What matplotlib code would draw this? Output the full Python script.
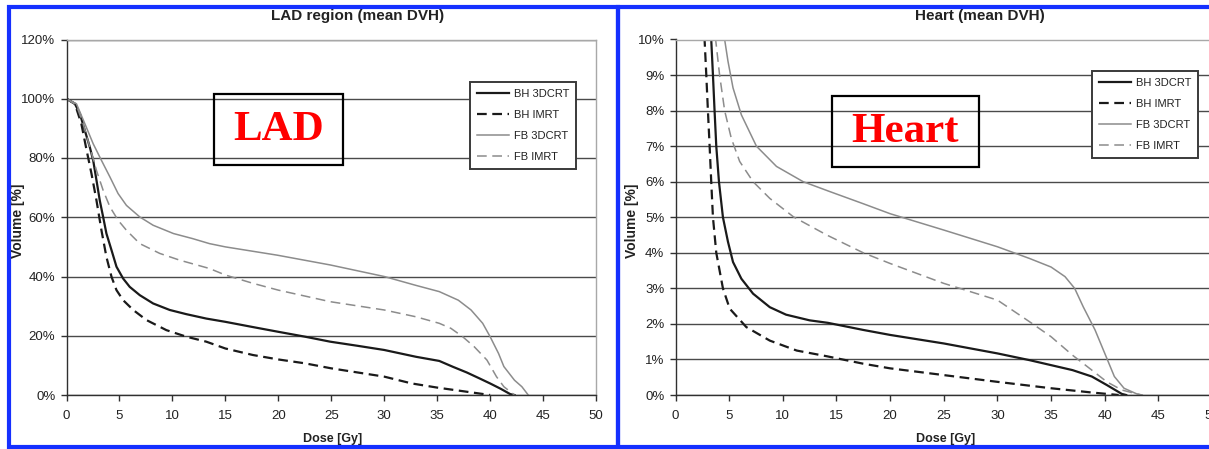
import matplotlib
matplotlib.use("Agg")
import matplotlib.pyplot as plt
from matplotlib.patches import Rectangle
from matplotlib.ticker import FuncFormatter, MultipleLocator

# ---- data (dose in Gy, volume in %) ----
series_names = ["BH 3DCRT", "BH IMRT", "FB 3DCRT", "FB IMRT"]

lad_bh3d_x = [0, 0.79, 1.26, 1.73, 2.2, 2.52, 2.83, 3.14, 3.46, 3.77, 4.25, 4.72, 5.35, 5.97, 6.92, 8.18, 9.75, 11.3, 13.2,
              15, 17.5, 19.9, 22.5, 24.9, 27.5, 30, 33, 35.2, 36.5, 37.8, 39, 40, 41, 41.9, 42.3]
lad_bh3d_y = [100, 98.3, 95, 89.3, 83.7, 79.2, 72.5, 65.7, 60.1, 54.5, 48.9, 43.3, 39.3, 36.5, 33.7, 30.9, 28.7, 27.3, 25.8,
              24.7, 23, 21.4, 19.7, 18, 16.6, 15.2, 12.9, 11.5, 9.5, 7.6, 5.6, 3.9, 2.1, 0.3, 0]

lad_bhimrt_x = [0, 0.79, 1.4, 1.9, 2.36, 2.83, 3.3, 3.77, 4.25, 4.72, 5.35, 6.3, 7.55, 9.43, 11.3, 13.2,
                15, 17.6, 20, 22.5, 25, 27.5, 30, 32.6, 35, 37.4, 40]
lad_bhimrt_y = [100, 98.3, 91.6, 82.6, 74.7, 65.7, 55.6, 46.6, 39.9, 35.4, 32, 28.7, 25.3, 21.9, 19.7, 18.0,
                15.7, 13.5, 12, 10.7, 9, 7.6, 6.2, 3.9, 2.5, 1.3, 0]

lad_fb3d_x = [0, 0.94, 1.73, 2.52, 3.3, 4.1, 4.87, 5.66, 6.92, 8.18, 10.1, 11.9, 13.5,
              15, 19.9, 24.9, 30, 33, 35.2, 37, 38.2, 39.3, 40, 40.8, 41.3, 42.3, 43, 43.6]
lad_fb3d_y = [100, 98.3, 91.6, 84.8, 79.2, 73.6, 68, 64, 60.1, 57.3, 54.5, 52.8, 51.1,
              50, 47.2, 43.9, 40, 37, 34.9, 32, 28.7, 24.2, 19.7, 14, 9.6, 5, 2.8, 0]

lad_fbimrt_x = [0, 0.94, 1.57, 2.2, 2.83, 3.46, 4.1, 4.87, 5.66, 6.92, 8.8, 10.7, 13.5,
                15, 17.6, 20, 24.9, 30, 33, 35.2, 36.3, 37.4, 38.5, 39.7, 40.6, 41.3, 42.3]
lad_fbimrt_y = [100, 97.8, 91.6, 83.7, 75.8, 69.1, 63.5, 59, 55.6, 51.1, 47.8, 45.5, 42.7,
                40.5, 37.7, 35.4, 31.5, 28.7, 26.4, 24.2, 22.5, 19.7, 16.3, 11.8, 6.2, 2.8, 0]

heart_bh3d_x = [3.3, 3.33, 3.49, 3.64, 3.8, 4.05, 4.42, 4.89, 5.36, 6.14, 7.23, 8.79, 10.3, 12.5, 14.2,
                17.5, 20, 25, 30, 33, 35, 37, 38.8, 40.2, 41.6, 42]
heart_bh3d_y = [10.5, 10, 9, 8, 7, 6, 5, 4.31, 3.74, 3.27, 2.85, 2.47, 2.26, 2.1, 2.03,
                1.83, 1.69, 1.45, 1.17, 0.98, 0.84, 0.70, 0.52, 0.28, 0.03, 0]

heart_bhimrt_x = [2.68, 2.71, 2.87, 3.02, 3.18, 3.33, 3.49, 3.8, 4.42, 5.05, 6.6, 8.79, 11.3, 14.1,
                  17.5, 20, 25, 30, 35, 38.8, 41.3]
heart_bhimrt_y = [10.5, 10, 9, 8, 7, 6, 5, 4, 3, 2.43, 1.91, 1.53, 1.25, 1.09,
                  0.88, 0.75, 0.56, 0.37, 0.19, 0.07, 0]

heart_fb3d_x = [4.5, 4.58, 4.89, 5.36, 6.14, 7.54, 9.41, 11.9, 14.4,
                17.5, 20, 25, 30, 33, 35, 36.3, 37.2, 38, 39.1, 40.2, 40.9, 41.8, 43, 43.5]
heart_fb3d_y = [10.5, 10, 9.39, 8.64, 7.88, 7.0, 6.43, 6.0, 5.72,
                5.38, 5.1, 4.64, 4.17, 3.84, 3.6, 3.33, 3.0, 2.48, 1.83, 1.03, 0.52, 0.19, 0.03, 0]

heart_fbimrt_x = [3.68, 3.74, 4.11, 4.58, 5.2, 5.98, 7.23, 8.79, 11, 14.1,
                  17.5, 20, 25, 30, 33, 35, 37, 38.8, 40.2, 41.6, 43.4]
heart_fbimrt_y = [10.5, 10, 9, 8, 7.22, 6.57, 6.0, 5.53, 5.01, 4.5,
                  4.0, 3.70, 3.14, 2.67, 2.06, 1.64, 1.12, 0.70, 0.37, 0.14, 0]

x_ticks = [0, 5, 10, 15, 20, 25, 30, 35, 40, 45, 50]

# ---- style ----
plt.rcParams["font.family"] = ["Liberation Sans Narrow", "Liberation Sans", "DejaVu Sans"]
plt.rcParams["lines.scale_dashes"] = False

W, H = 1209, 449
DARK = "#1a1a1a"
GREY = "#8c8c8c"
GRID = "#4a4a4a"
BLUE = "#1530ff"
TXT = "#222222"

styles = [
    dict(color=DARK, lw=1.6, ls="-"),
    dict(color=DARK, lw=1.6, dashes=(7, 4)),
    dict(color=GREY, lw=1.1, ls="-"),
    dict(color=GREY, lw=1.1, dashes=(7, 4)),
]


def px_box(x0, x1, y_top, y_bot):
    """pixel box -> figure fraction [left, bottom, width, height]"""
    return [x0 / W, 1 - y_bot / H, (x1 - x0) / W, (y_bot - y_top) / H]


fig = plt.figure(figsize=(W / 100, H / 100), dpi=100)


def draw_panel(rect, data, ymax, ystep, title, title_x, ylabel_x, xlabel_x,
               legend_xy, tag, tag_box):
    ax = fig.add_axes(rect)
    handles = []
    for (xs, ys), st, name in zip(data, styles, series_names):
        ln, = ax.plot(xs, ys, label=name, solid_joinstyle="round", **st)
        handles.append(ln)
    ax.set_xlim(0, 50)
    ax.set_ylim(0, ymax)
    ax.set_xticks(x_ticks)
    ax.yaxis.set_major_locator(MultipleLocator(ystep))
    ax.yaxis.set_major_formatter(FuncFormatter(lambda v, p: f"{v:.0f}%"))
    ax.yaxis.grid(True, color=GRID, lw=1.0)
    ax.set_axisbelow(True)
    for s in ["left", "bottom"]:
        ax.spines[s].set_color("#303030")
        ax.spines[s].set_linewidth(1.0)
    for s in ["top", "right"]:
        ax.spines[s].set_color("#a8a8a8")
        ax.spines[s].set_linewidth(1.0)
    ax.tick_params(axis="both", direction="out", length=4, width=1.0,
                   color="#303030", labelsize=9.5, labelcolor=TXT)
    ax.tick_params(axis="y", pad=4)
    ax.tick_params(axis="x", pad=7)

    fig.text(title_x / W, 1 - 16 / H, title, ha="center", va="center",
             fontsize=11, fontweight="bold", color=TXT)
    fig.text(ylabel_x / W, 1 - 221 / H, "Volume [%]", rotation=90,
             ha="center", va="center", fontsize=10, fontweight="bold",
             color=TXT)
    fig.text(xlabel_x / W, 1 - 439 / H, "Dose [Gy]", ha="center",
             va="center", fontsize=9, fontweight="bold", color=TXT)

    leg = fig.legend(handles=handles, loc="upper left",
                     bbox_to_anchor=(legend_xy[0] / W, 1 - legend_xy[1] / H),
                     frameon=True, fancybox=False, framealpha=1,
                     edgecolor="#3a3a3a", fontsize=8, handlelength=2.9,
                     handletextpad=0.45, labelspacing=1.0, borderpad=0.6,
                     borderaxespad=0)
    leg.get_frame().set_linewidth(1.4)
    for t in leg.get_texts():
        t.set_color(TXT)

    bx0, bx1, by0, by1 = tag_box
    fig.patches.append(Rectangle((bx0 / W, 1 - by1 / H), (bx1 - bx0) / W,
                                 (by1 - by0) / H, transform=fig.transFigure,
                                 fill=False, ec="black", lw=1.6, zorder=5))
    fig.text((bx0 + bx1) / 2 / W, 1 - (by0 + by1) / 2 / H, tag,
             ha="center", va="center", fontsize=31, fontweight="bold",
             color="red", family="Liberation Serif", zorder=6)
    return ax


lad_data = [(lad_bh3d_x, lad_bh3d_y), (lad_bhimrt_x, lad_bhimrt_y),
            (lad_fb3d_x, lad_fb3d_y), (lad_fbimrt_x, lad_fbimrt_y)]
heart_data = [(heart_bh3d_x, heart_bh3d_y), (heart_bhimrt_x, heart_bhimrt_y),
              (heart_fb3d_x, heart_fb3d_y), (heart_fbimrt_x, heart_fbimrt_y)]

draw_panel(px_box(66.5, 596, 39.5, 395), lad_data, 120, 20,
           "LAD region (mean DVH)", 358, 18, 333, (470, 82), "LAD",
           (214, 343, 94, 165))
draw_panel(px_box(675.5, 1212, 39.5, 395), heart_data, 10, 1,
           "Heart (mean DVH)", 980, 632, 946, (1092, 71), "Heart",
           (832, 979, 96, 167))

# blue frames around both panels
frame_kw = dict(transform=fig.transFigure, fill=False, ec=BLUE, zorder=10)
fig.patches.append(Rectangle((9 / W, 1 - 447 / H), (618 - 9) / W,
                             (447 - 7) / H, lw=3.0, **frame_kw))
fig.patches.append(Rectangle((618 / W, 1 - 447 / H), (1215 - 618) / W,
                             (447 - 7) / H, lw=3.0, **frame_kw))

fig.savefig("out.png", dpi=100)
